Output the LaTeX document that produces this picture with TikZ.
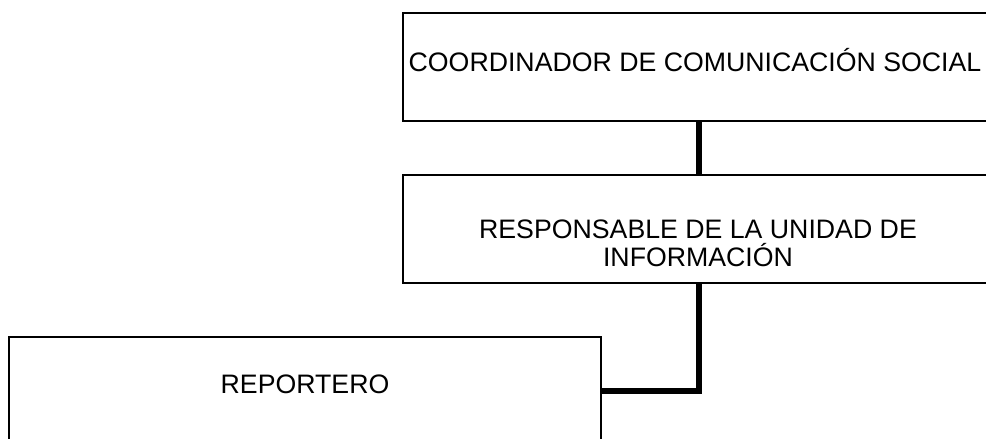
\documentclass[tikz,border=0pt]{standalone}
\usepackage{fontspec}
\setmainfont{Liberation Sans}
\begin{document}
\tikzset{
  box/.style={draw=black, line width=1.5pt, minimum width=592pt, minimum height=108pt, inner sep=0pt},
  lbl/.style={font=\fontsize{26.7}{30.7}\selectfont, anchor=base, inner sep=0pt},
  conn/.style={draw=black, line width=6pt, line join=miter}
}
\begin{tikzpicture}[x=1pt,y=-1pt]
\useasboundingbox (0,0) rectangle (986,439);
\fill[white] (0,0) rectangle (986,439);
\clip (0,0) rectangle (986,439);
\node[box] (coord) at (699,67) {};
\node[box] (resp) at (699,229) {};
\node[box] (rep) at (305,391) {};
\draw[conn] (coord.south) -- (resp.north);
\draw[conn] (resp.south) |- (rep.east);
\node[lbl] (t1) at (695,71) {COORDINADOR DE COMUNICACIÓN SOCIAL};
\node[lbl] (t2a) at (698,238) {RESPONSABLE DE LA UNIDAD DE};
\node[lbl] (t2b) at (698,266) {INFORMACIÓN};
\node[lbl] (t3) at (305,393) {REPORTERO};
\end{tikzpicture}
\end{document}
